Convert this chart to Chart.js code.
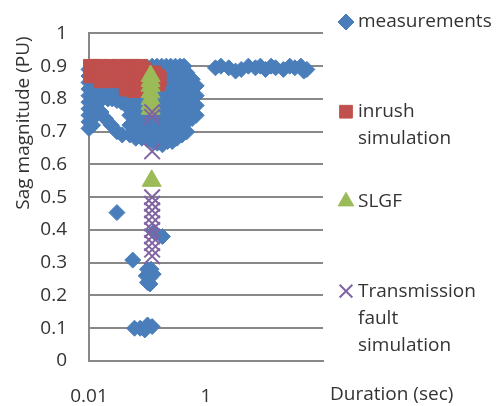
<!DOCTYPE html>
<html>
<head>
<meta charset="utf-8">
<title>Sag magnitude vs duration</title>
<script src="https://cdn.jsdelivr.net/npm/chart.js"></script>
<style>
  html, body { margin: 0; padding: 0; background: #fff; }
  canvas { display: block; }
</style>
</head>
<body>
<canvas id="sagChart" width="502" height="406"></canvas>
<script>
// sag events: [duration (sec), magnitude (PU)]
const measurements = [
  [0.01,0.89],[0.01,0.87],[0.01,0.85],[0.01,0.83],[0.01,0.81],[0.01,0.79],[0.01,0.77],[0.01,0.75],[0.01,0.73],[0.01,0.71],
  [0.0115,0.88],[0.0115,0.86],[0.0115,0.84],[0.0115,0.82],[0.0115,0.8],[0.0115,0.78],[0.0115,0.76],[0.0115,0.74],[0.0115,0.72],
  [0.012,0.895],[0.015,0.895],[0.019,0.895],[0.024,0.895],[0.03,0.895],[0.037,0.895],[0.045,0.895],[0.055,0.895],[0.068,0.895],[0.085,0.895],
  [0.1,0.895],[0.12,0.9],[0.145,0.9],[0.175,0.9],[0.21,0.9],[0.25,0.9],[0.3,0.9],[0.36,0.9],[0.42,0.9],
  [0.014,0.82],[0.014,0.8],[0.017,0.82],[0.017,0.8],[0.021,0.82],[0.021,0.8],[0.025,0.82],[0.025,0.8],
  [0.03,0.815],[0.03,0.795],[0.036,0.81],[0.036,0.79],[0.043,0.8],[0.043,0.78],[0.052,0.8],[0.052,0.78],
  [0.062,0.8],[0.075,0.79],
  [0.016,0.76],[0.019,0.74],[0.024,0.72],[0.03,0.7],[0.037,0.69],
  [0.05,0.75],[0.05,0.72],[0.05,0.69],
  [0.063,0.77],[0.063,0.74],[0.063,0.71],[0.063,0.68],
  [0.08,0.76],[0.08,0.73],[0.08,0.7],[0.08,0.68],
  [0.1,0.79],[0.1,0.76],[0.1,0.73],[0.1,0.7],[0.1,0.675],
  [0.12,0.82],[0.12,0.79],[0.12,0.76],[0.12,0.73],[0.12,0.7],[0.12,0.67],
  [0.147,0.84],[0.147,0.81],[0.147,0.78],[0.147,0.75],[0.147,0.72],[0.147,0.69],[0.147,0.665],
  [0.18,0.87],[0.18,0.84],[0.18,0.81],[0.18,0.78],[0.18,0.75],[0.18,0.72],[0.18,0.69],[0.18,0.66],
  [0.22,0.88],[0.22,0.85],[0.22,0.82],[0.22,0.79],[0.22,0.76],[0.22,0.73],[0.22,0.7],[0.22,0.67],
  [0.265,0.88],[0.265,0.85],[0.265,0.82],[0.265,0.79],[0.265,0.76],[0.265,0.73],[0.265,0.7],[0.265,0.67],
  [0.32,0.89],[0.32,0.86],[0.32,0.83],[0.32,0.8],[0.32,0.77],[0.32,0.74],[0.32,0.71],[0.32,0.68],
  [0.39,0.87],[0.39,0.84],[0.39,0.81],[0.39,0.78],[0.39,0.75],[0.39,0.72],[0.39,0.69],
  [0.47,0.88],[0.47,0.85],[0.47,0.82],[0.47,0.79],[0.47,0.76],[0.47,0.73],[0.47,0.7],
  [0.58,0.86],[0.58,0.83],[0.58,0.8],[0.58,0.77],[0.58,0.74],
  [0.68,0.84],[0.68,0.81],[0.68,0.78],[0.68,0.75],
  [0.03,0.453],[0.056,0.308],[0.13,0.394],[0.18,0.38],
  [0.1,0.28],[0.115,0.28],[0.095,0.26],[0.11,0.255],[0.125,0.265],[0.1,0.24],[0.11,0.235],
  [0.06,0.1],[0.075,0.1],[0.09,0.095],[0.1,0.11],[0.12,0.105],
  [1.45,0.895],[1.8,0.9],[2.45,0.895],[3.2,0.885],[4,0.89],[5.3,0.9],[7,0.895],[8.5,0.9],
  [10.4,0.89],[13,0.9],[15.5,0.895],[21,0.89],[27,0.9],[33,0.895],[42,0.9],[47,0.885],[53,0.89]
];

const inrushSim = [
  [0.0105,0.9],[0.0105,0.88],[0.0105,0.87],[0.012,0.9],[0.012,0.885],[0.012,0.87],[0.014,0.895],[0.014,0.875],
  [0.016,0.9],[0.016,0.87],[0.016,0.855],[0.019,0.89],[0.019,0.87],[0.019,0.855],[0.023,0.9],[0.023,0.88],[0.023,0.86],
  [0.027,0.89],[0.027,0.87],[0.027,0.855],[0.032,0.9],[0.032,0.88],[0.032,0.86],[0.037,0.89],[0.037,0.855],
  [0.043,0.9],[0.043,0.87],[0.043,0.84],[0.043,0.83],[0.05,0.89],[0.05,0.86],[0.05,0.83],
  [0.058,0.9],[0.058,0.87],[0.058,0.84],[0.058,0.825],[0.068,0.89],[0.068,0.85],[0.068,0.825],
  [0.078,0.9],[0.078,0.86],[0.078,0.83],[0.09,0.89],[0.09,0.86],[0.1,0.88],[0.11,0.87],
  [0.13,0.88],[0.13,0.85],[0.15,0.87],[0.15,0.845],[0.16,0.86]
];

const slgf = [
  [0.113,0.87],[0.113,0.855],[0.113,0.84],[0.113,0.82],[0.113,0.8],[0.113,0.785],[0.113,0.77],[0.118,0.55]
];

const transmissionFault = [
  [0.12,0.76],[0.12,0.745],[0.12,0.64],[0.12,0.5],[0.12,0.48],[0.12,0.46],[0.12,0.44],[0.12,0.42],
  [0.12,0.4],[0.12,0.38],[0.12,0.36],[0.12,0.34],[0.12,0.32]
];

const seriesNames = ['measurements', 'inrush simulation', 'SLGF', 'Transmission fault simulation'];
const legendLines = [['measurements'], ['inrush', 'simulation'], ['SLGF'], ['Transmission', 'fault', 'simulation']];
const seriesColors = ['#4A7EBB', '#C0504D', '#9BBB59', '#8064A2'];

const xTickValues = [0.01, 1];
const xTickLabels = ['0.01', '1'];
const yTickValues = [0, 0.1, 0.2, 0.3, 0.4, 0.5, 0.6, 0.7, 0.8, 0.9, 1];
const yTickLabels = ['0', '0.1', '0.2', '0.3', '0.4', '0.5', '0.6', '0.7', '0.8', '0.9', '1'];

const xTitle = 'Duration (sec)';
const yTitle = 'Sag magnitude (PU)';

const FONT_FAMILY = "'Open Sans', sans-serif";
const FONT_SIZE = 19;
const TEXT_COLOR = '#333333';
const GRID_COLOR = '#888888';

function toPoints(list) {
  return list.map(p => ({ x: p[0], y: p[1] }));
}

const markers = [
  { pointStyle: 'rectRot', radius: 8, borderWidth: 1 },
  { pointStyle: 'rect', radius: 9.5, borderWidth: 1 },
  { pointStyle: 'triangle', radius: 11, borderWidth: 1 },
  { pointStyle: 'crossRot', radius: 11, borderWidth: 2 }
];

const datasets = [measurements, inrushSim, slgf, transmissionFault].map((data, i) => ({
  label: seriesNames[i],
  data: toPoints(data),
  pointStyle: markers[i].pointStyle,
  pointRadius: markers[i].radius,
  pointBorderWidth: markers[i].borderWidth,
  backgroundColor: seriesColors[i],
  borderColor: seriesColors[i],
  showLine: false,
  clip: false,
  order: 4 - i   // measurements underneath, simulations on top
}));

// legend on the right, plus the two axis titles
const sideText = {
  id: 'sideText',
  afterDraw(chart) {
    const ctx = chart.ctx;
    ctx.save();
    ctx.font = FONT_SIZE + 'px ' + FONT_FAMILY;
    ctx.fillStyle = TEXT_COLOR;
    ctx.textBaseline = 'middle';
    ctx.textAlign = 'left';

    const markerX = 346, textX = 358, lineGap = 27;
    const top = 22, step = 89.7;
    chart.data.datasets.forEach((ds, i) => {
      const y = top + i * step;
      ctx.save();
      ctx.fillStyle = ds.backgroundColor;
      ctx.strokeStyle = ds.borderColor;
      ctx.lineWidth = ds.pointBorderWidth;
      Chart.helpers.drawPoint(ctx, {
        pointStyle: ds.pointStyle, radius: Math.min(ds.pointRadius, 9), rotation: 0, borderWidth: ds.pointBorderWidth
      }, markerX, y);
      ctx.restore();
      legendLines[i].forEach((ln, j) => ctx.fillText(ln, textX, y + j * lineGap));
    });

    ctx.fillText(xTitle, 330, 395);

    ctx.translate(24, 123);
    ctx.rotate(-Math.PI / 2);
    ctx.textAlign = 'center';
    ctx.fillText(yTitle, 0, 0);
    ctx.restore();
  }
};

new Chart(document.getElementById('sagChart'), {
  type: 'scatter',
  data: { datasets },
  options: {
    responsive: false,
    animation: false,
    events: [],
    layout: { padding: { left: 0, right: 179, top: 24, bottom: 0 } },
    plugins: { legend: { display: false }, tooltip: { enabled: false } },
    scales: {
      x: {
        type: 'logarithmic',
        min: 0.01,
        max: 100,
        afterBuildTicks: scale => { scale.ticks = xTickValues.map(v => ({ value: v })); },
        afterFit: scale => { scale.height = 45; },
        grid: { display: false, drawTicks: false },
        border: { display: true, color: GRID_COLOR, width: 2 },
        ticks: {
          autoSkip: false,
          maxRotation: 0,
          padding: 24,
          color: TEXT_COLOR,
          font: { family: FONT_FAMILY, size: FONT_SIZE },
          callback: (value, index) => xTickLabels[index]
        }
      },
      y: {
        min: 0,
        max: 1,
        afterBuildTicks: scale => { scale.ticks = yTickValues.map(v => ({ value: v })); },
        afterFit: scale => { scale.width = 89; },
        grid: { color: GRID_COLOR, lineWidth: 2, drawTicks: false },
        border: { display: true, color: GRID_COLOR, width: 2 },
        ticks: {
          padding: 22,
          color: TEXT_COLOR,
          font: { family: FONT_FAMILY, size: FONT_SIZE },
          callback: (value, index) => yTickLabels[index]
        }
      }
    }
  },
  plugins: [sideText]
});
</script>
</body>
</html>
